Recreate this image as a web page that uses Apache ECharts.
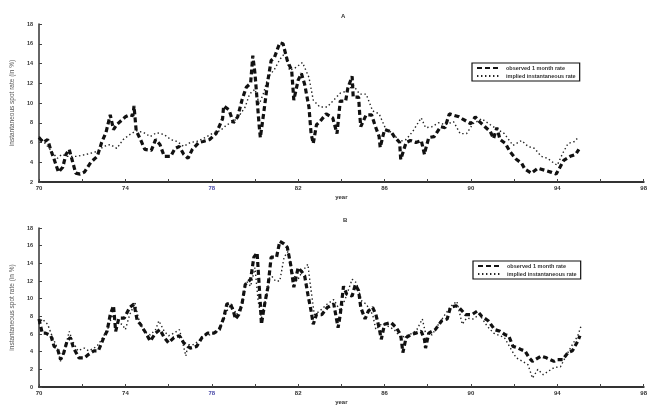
<!DOCTYPE html>
<html>
<head>
<meta charset="utf-8">
<script src="https://cdn.jsdelivr.net/npm/echarts@6/dist/echarts.min.js"></script>
<style>html,body{margin:0;padding:0;background:#fff}#c{width:650px;height:408px}</style>
</head>
<body>
<div id="c"></div>
<script>
// ---- data (year, rate in %) ----
var obsA = [[1970.0,6.5],[1970.2,6.0],[1970.4,6.3],[1970.55,5.2],[1970.7,4.3],[1970.9,3.0],[1971.1,3.5],[1971.25,4.8],[1971.4,5.3],[1971.7,2.9],[1971.9,2.8],[1972.1,3.0],[1972.4,4.0],[1972.7,4.6],[1972.9,6.0],[1973.1,7.0],[1973.3,8.8],[1973.45,7.3],[1973.6,7.8],[1974.0,8.6],[1974.2,8.8],[1974.35,8.7],[1974.4,9.7],[1974.5,7.2],[1974.7,6.3],[1974.9,5.3],[1975.2,5.2],[1975.4,6.3],[1975.6,5.8],[1975.8,4.6],[1976.1,4.6],[1976.3,5.4],[1976.5,5.6],[1976.7,4.8],[1976.9,4.4],[1977.1,5.3],[1977.4,6.0],[1977.6,6.1],[1977.9,6.3],[1978.2,6.9],[1978.5,8.4],[1978.55,9.7],[1978.8,9.3],[1979.0,8.0],[1979.2,8.6],[1979.4,10.3],[1979.6,11.6],[1979.8,12.0],[1979.9,14.8],[1980.0,13.0],[1980.2,7.6],[1980.25,6.5],[1980.4,8.9],[1980.6,12.3],[1980.75,14.3],[1980.9,14.6],[1981.15,16.1],[1981.3,16.0],[1981.5,14.3],[1981.7,13.3],[1981.8,10.3],[1982.0,12.3],[1982.15,13.0],[1982.3,11.9],[1982.5,9.6],[1982.6,6.9],[1982.7,5.9],[1982.85,7.8],[1983.0,8.1],[1983.3,8.9],[1983.6,8.5],[1983.8,6.9],[1983.95,10.2],[1984.2,10.2],[1984.3,11.5],[1984.5,12.7],[1984.55,10.6],[1984.8,10.6],[1984.85,8.9],[1984.9,7.6],[1985.15,8.8],[1985.4,8.8],[1985.55,7.8],[1985.75,6.6],[1985.8,5.5],[1986.0,7.3],[1986.3,7.1],[1986.45,6.6],[1986.7,6.0],[1986.75,4.3],[1987.0,6.0],[1987.2,6.2],[1987.45,6.0],[1987.7,6.2],[1987.85,4.8],[1987.9,5.3],[1988.05,6.5],[1988.3,6.6],[1988.6,7.6],[1988.8,7.5],[1989.0,8.9],[1989.15,8.8],[1989.45,8.6],[1989.6,8.4],[1990.0,7.9],[1990.2,8.6],[1990.35,8.2],[1990.65,7.6],[1990.9,7.1],[1991.05,6.4],[1991.2,7.5],[1991.35,6.3],[1991.6,5.9],[1991.8,5.1],[1992.1,4.3],[1992.35,3.9],[1992.5,3.3],[1992.8,2.9],[1993.1,3.4],[1993.4,3.2],[1993.7,3.0],[1993.95,2.8],[1994.15,3.6],[1994.3,4.2],[1994.6,4.6],[1994.85,4.8],[1995.0,5.3]];
var impA = [[1970.0,6.6],[1970.25,6.0],[1970.55,5.2],[1970.85,4.4],[1971.05,4.8],[1971.3,4.6],[1971.75,4.6],[1972.2,4.8],[1972.7,5.1],[1973.0,5.6],[1973.3,5.8],[1973.6,5.4],[1973.9,6.3],[1974.2,6.8],[1974.5,7.2],[1974.85,7.0],[1975.15,6.6],[1975.45,7.0],[1975.8,6.8],[1976.1,6.3],[1976.4,6.1],[1976.7,5.6],[1977.0,6.0],[1977.3,6.1],[1977.7,6.5],[1978.1,7.0],[1978.4,7.2],[1978.7,7.8],[1979.0,8.1],[1979.3,8.8],[1979.55,9.6],[1979.75,10.9],[1980.0,11.4],[1980.2,9.9],[1980.4,11.0],[1980.6,12.6],[1980.9,13.4],[1981.15,14.4],[1981.4,15.1],[1981.6,13.3],[1981.9,13.6],[1982.2,14.1],[1982.5,12.6],[1982.7,10.3],[1983.0,9.6],[1983.35,9.6],[1983.65,10.3],[1983.95,11.0],[1984.25,11.2],[1984.55,11.8],[1984.85,10.9],[1985.15,10.9],[1985.45,9.2],[1985.75,8.9],[1986.05,7.4],[1986.4,6.9],[1986.7,6.1],[1987.0,6.3],[1987.3,7.1],[1987.7,8.5],[1987.9,7.5],[1988.2,7.6],[1988.5,8.0],[1988.8,7.8],[1989.2,8.1],[1989.5,6.9],[1989.8,6.9],[1990.1,7.9],[1990.5,8.4],[1990.9,7.8],[1991.25,7.3],[1991.55,6.9],[1991.95,5.7],[1992.35,6.2],[1992.65,5.6],[1992.95,5.4],[1993.25,4.6],[1993.55,4.4],[1993.85,3.9],[1994.0,3.7],[1994.25,4.9],[1994.5,5.9],[1994.8,6.1],[1995.0,6.6]];
var obsB = [[1970.0,7.7],[1970.15,6.1],[1970.3,6.1],[1970.55,5.8],[1970.7,4.6],[1970.85,4.4],[1971.0,3.1],[1971.15,3.9],[1971.3,5.2],[1971.45,5.6],[1971.6,4.4],[1971.85,3.3],[1972.1,3.3],[1972.3,3.7],[1972.55,4.1],[1972.75,4.1],[1973.0,5.6],[1973.15,6.3],[1973.3,8.2],[1973.45,9.2],[1973.55,6.3],[1973.7,7.8],[1973.95,7.8],[1974.2,9.0],[1974.4,9.4],[1974.55,7.5],[1974.7,7.1],[1974.95,6.1],[1975.15,5.2],[1975.4,6.1],[1975.6,6.5],[1975.8,5.6],[1976.0,5.0],[1976.25,5.6],[1976.5,5.8],[1976.7,5.0],[1977.0,4.4],[1977.3,4.6],[1977.55,5.6],[1977.8,6.1],[1978.1,6.1],[1978.35,6.5],[1978.55,7.8],[1978.7,9.4],[1978.85,9.5],[1979.0,8.6],[1979.1,7.7],[1979.25,8.2],[1979.4,9.4],[1979.55,11.6],[1979.8,12.2],[1979.95,14.7],[1980.1,15.2],[1980.25,9.4],[1980.3,7.1],[1980.45,9.4],[1980.6,11.3],[1980.75,14.7],[1981.0,14.7],[1981.15,16.5],[1981.35,16.2],[1981.5,15.8],[1981.65,13.9],[1981.8,11.3],[1982.0,13.5],[1982.15,13.1],[1982.3,12.6],[1982.45,10.5],[1982.6,8.6],[1982.7,7.1],[1982.85,8.2],[1983.1,8.2],[1983.35,9.0],[1983.65,9.4],[1983.85,6.7],[1983.95,8.2],[1984.1,11.4],[1984.25,10.5],[1984.5,10.3],[1984.65,11.6],[1984.8,10.9],[1984.9,9.0],[1985.1,7.7],[1985.25,8.6],[1985.45,9.0],[1985.6,8.2],[1985.75,6.7],[1985.85,5.4],[1986.0,7.1],[1986.3,7.3],[1986.55,6.7],[1986.75,5.9],[1986.85,3.9],[1987.0,5.6],[1987.2,5.9],[1987.45,6.1],[1987.7,6.3],[1987.85,5.4],[1987.9,4.4],[1988.05,6.1],[1988.35,6.5],[1988.65,7.5],[1988.9,7.7],[1989.05,9.0],[1989.3,9.2],[1989.45,9.0],[1989.75,8.2],[1990.05,8.2],[1990.3,8.6],[1990.5,8.0],[1990.8,7.5],[1991.1,6.5],[1991.35,6.3],[1991.6,5.9],[1991.75,5.8],[1991.95,4.6],[1992.2,4.4],[1992.35,4.2],[1992.5,4.1],[1992.7,3.3],[1992.85,2.9],[1993.25,3.5],[1993.5,3.3],[1993.85,2.9],[1994.0,3.1],[1994.25,3.1],[1994.5,3.9],[1994.7,4.1],[1994.95,5.2],[1995.05,5.8]];
var impB = [[1970.0,7.1],[1970.15,7.7],[1970.4,7.1],[1970.6,5.8],[1970.85,4.4],[1971.0,2.9],[1971.25,4.8],[1971.4,6.3],[1971.55,5.2],[1971.8,4.1],[1972.1,4.4],[1972.3,4.1],[1972.55,4.4],[1972.75,4.8],[1973.0,5.8],[1973.2,6.7],[1973.4,8.2],[1973.6,7.3],[1973.85,7.1],[1974.0,6.5],[1974.2,8.2],[1974.45,9.5],[1974.6,7.8],[1974.85,6.3],[1975.15,5.9],[1975.4,6.5],[1975.55,7.5],[1975.8,6.3],[1976.0,5.8],[1976.25,6.1],[1976.5,6.5],[1976.6,5.6],[1976.8,3.5],[1976.9,4.8],[1977.15,4.8],[1977.4,5.2],[1977.6,5.8],[1977.9,5.9],[1978.25,6.3],[1978.45,7.1],[1978.7,8.6],[1978.9,9.4],[1979.15,8.2],[1979.4,9.4],[1979.6,12.0],[1979.8,11.4],[1980.0,13.5],[1980.15,9.7],[1980.3,7.8],[1980.55,10.5],[1980.7,12.8],[1980.95,12.0],[1981.15,12.0],[1981.35,14.7],[1981.55,15.4],[1981.7,13.1],[1981.95,12.0],[1982.2,13.1],[1982.45,13.9],[1982.6,10.9],[1982.75,8.2],[1983.0,8.6],[1983.35,9.4],[1983.65,9.9],[1983.95,8.6],[1984.2,10.1],[1984.5,12.2],[1984.7,11.8],[1984.95,9.7],[1985.15,9.4],[1985.45,8.2],[1985.6,6.5],[1985.85,7.1],[1986.15,6.9],[1986.45,6.5],[1986.75,5.6],[1987.0,5.8],[1987.3,6.1],[1987.5,6.5],[1987.75,7.7],[1987.9,6.1],[1988.2,5.9],[1988.5,7.1],[1988.8,8.2],[1989.1,9.2],[1989.35,9.7],[1989.6,7.1],[1989.8,7.8],[1990.1,7.7],[1990.4,8.2],[1990.75,6.9],[1991.05,6.1],[1991.35,5.8],[1991.55,5.6],[1991.9,4.1],[1992.1,3.3],[1992.4,2.9],[1992.65,2.5],[1992.85,1.0],[1993.1,2.0],[1993.35,1.4],[1993.6,1.8],[1993.85,2.2],[1994.15,2.3],[1994.4,3.5],[1994.7,4.8],[1994.95,5.8],[1995.1,6.9]];
var panelTitles = ['A', 'B'];
var seriesNames = ['observed 1 month rate', 'implied instantaneous rate'];
var yAxisName = 'instantaneous spot rate (in %)';
var xAxisName = 'year';

var FONT = 'Liberation Sans';
function xAxisCfg(gi) {
  return {
    type: 'value', gridIndex: gi, min: 1970, max: 1998, interval: 2,
    name: xAxisName, nameLocation: 'middle', nameGap: 12,
    nameTextStyle: {fontFamily: FONT, fontSize: 6, fontWeight: 'bold', color: '#333'},
    axisLine: {lineStyle: {color: '#333', width: 2}},
    axisTick: {inside: true, length: 3, lineStyle: {color: '#444', width: 1}},
    splitLine: {show: false},
    axisLabel: {
      fontFamily: FONT, fontSize: 6, fontWeight: 'bold', color: '#333', margin: 3,
      formatter: function (v) {
        if ((v - 1970) % 4 !== 0) return '';
        var s = String(v % 100);
        return v === 1978 ? '{b|' + s + '}' : s;
      },
      rich: {b: {color: '#4a4aa8', fontFamily: FONT, fontSize: 6, fontWeight: 'bold'}}
    }
  };
}
function yAxisCfg(gi, mn) {
  return {
    type: 'value', gridIndex: gi, min: mn, max: 18, interval: 2,
    name: yAxisName, nameLocation: 'middle', nameGap: 20, nameRotate: 90,
    nameTextStyle: {fontFamily: FONT, fontSize: 6.5, color: '#555'},
    axisLine: {show: true, lineStyle: {color: '#333', width: 1.5}},
    axisTick: {show: true, inside: true, length: 3, lineStyle: {color: '#444'}},
    splitLine: {show: false},
    axisLabel: {fontFamily: FONT, fontSize: 5.5, fontWeight: 'bold', color: '#333', margin: 6}
  };
}
function obsSeries(gi, data) {
  return {
    name: seriesNames[0], type: 'line', xAxisIndex: gi, yAxisIndex: gi, data: data,
    showSymbol: false, symbol: 'none', smooth: false,
    lineStyle: {color: '#111', width: 3.2, type: [5, 3]},
    itemStyle: {color: 'rgba(0,0,0,0)', borderWidth: 0},
    z: 3
  };
}
function impSeries(gi, data) {
  return {
    name: seriesNames[1], type: 'line', xAxisIndex: gi, yAxisIndex: gi, data: data,
    showSymbol: false, symbol: 'none',
    lineStyle: {color: '#222', width: 1.4, type: [1.4, 2.6]},
    itemStyle: {color: 'rgba(0,0,0,0)', borderWidth: 0},
    z: 2
  };
}
function legendCfg(left, top) {
  return {
    data: seriesNames, left: left, top: top, orient: 'vertical',
    itemWidth: 24, itemHeight: 7, itemGap: 2, padding: [2, 4],
    borderColor: '#111', borderWidth: 1.2, backgroundColor: '#fff',
    itemStyle: {opacity: 0},
    textStyle: {fontFamily: FONT, fontSize: 5.5, fontWeight: 'bold', color: '#333'},
    selectedMode: false
  };
}

var chart = echarts.init(document.getElementById('c'), null, {renderer: 'canvas'});
chart.setOption({
  backgroundColor: '#fff',
  animation: false,
  title: [
    {text: panelTitles[0], left: 336, top: 8, textStyle: {fontFamily: FONT, fontSize: 6, fontWeight: 'bold', color: '#333'}},
    {text: panelTitles[1], left: 338, top: 212, textStyle: {fontFamily: FONT, fontSize: 6, fontWeight: 'bold', color: '#333'}}
  ],
  grid: [
    {left: 39, right: 5, top: 24, height: 158},
    {left: 39, right: 5, top: 228, height: 159}
  ],
  xAxis: [xAxisCfg(0), xAxisCfg(1)],
  yAxis: [yAxisCfg(0, 2), yAxisCfg(1, 0)],
  legend: [legendCfg(472, 63), legendCfg(473, 261)],
  series: [obsSeries(0, obsA), impSeries(0, impA), obsSeries(1, obsB), impSeries(1, impB)]
});
</script>
</body>
</html>
